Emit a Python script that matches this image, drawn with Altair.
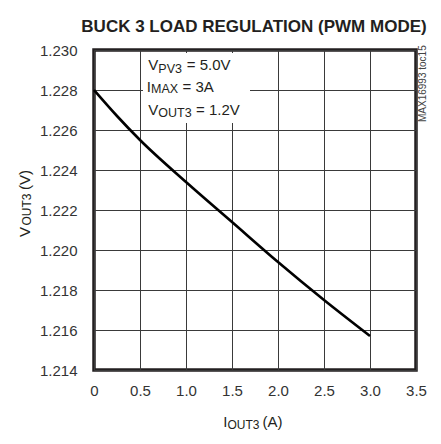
import altair as alt
import pandas as pd

# ---- data ----
current_a = [0.0, 0.25, 0.5, 1.0, 1.5, 2.0, 2.5, 3.0]
vout_v = [1.2280, 1.2267, 1.2255, 1.2234, 1.2214, 1.2194, 1.2175, 1.2157]
x_ticks = [0, 0.5, 1.0, 1.5, 2.0, 2.5, 3.0, 3.5]
y_ticks = [1.214, 1.216, 1.218, 1.220, 1.222, 1.224, 1.226, 1.228, 1.230]
title_text = "BUCK 3 LOAD REGULATION (PWM MODE)"
note_text = "MAX16993 toc15"

FONT = "'Liberation Sans', Arial, sans-serif"
INK = "#231f20"
W, H = 322, 320

df = pd.DataFrame({"i": current_a, "v": vout_v})

xs = alt.Scale(domain=[0, 3.5], nice=False, zero=False)
ys = alt.Scale(domain=[1.214, 1.230], nice=False, zero=False)

base = alt.Chart(df)

curve = base.mark_line(color="#000000", strokeWidth=2.6, interpolate="monotone").encode(
    x=alt.X("i:Q", scale=xs,
            axis=alt.Axis(values=x_ticks, title=None, grid=True, gridColor="#3a3a3a",
                          gridWidth=1, gridOpacity=1, ticks=False, domain=False,
                          labelExpr="datum.value == 0 ? '0' : format(datum.value, '.1f')",
                          labelFont=FONT, labelFontSize=15, labelColor="#333333",
                          labelPadding=13, labelFlush=False)),
    y=alt.Y("v:Q", scale=ys,
            axis=alt.Axis(values=y_ticks, title=None, grid=True, gridColor="#3a3a3a",
                          gridWidth=1, gridOpacity=1, ticks=False, domain=False,
                          format=".3f", labelFont=FONT, labelFontSize=15,
                          labelColor="#333333", labelPadding=17, labelFlush=False)),
)

one = pd.DataFrame({"k": [0]})


def txt(s, x, y, size, align="left", angle=0, weight="normal", color=INK, baseline="alphabetic"):
    return alt.Chart(one).mark_text(
        text=s, font=FONT, fontSize=size, align=align, angle=angle,
        fontWeight=weight, color=color, baseline=baseline,
    ).encode(x=alt.value(x), y=alt.value(y))


box = alt.Chart(one).mark_rect(color="white").encode(
    x=alt.value(49), x2=alt.value(156), y=alt.value(3), y2=alt.value(73)
)

layers = [
    box,
    curve,
    # annotation block
    txt("V", 64.3, 20, 15, align="right"),
    txt("PV3", 64.3, 22.5, 12.5),
    txt("= 5.0V", 92.7, 20, 15),
    txt("I", 57, 41.5, 15, align="right"),
    txt("MAX", 57, 43, 12.5),
    txt("= 3A", 88.5, 41.5, 15),
    txt("V", 64.3, 64.5, 15, align="right"),
    txt("OUT3", 64.3, 67, 12.5),
    txt("= 1.2V", 102, 64.5, 15),
    # chart title
    txt(title_text, W / 2 - 1, -18.5, 17, align="center", weight="bold"),
    # side note
    txt(note_text, 332, 72, 10, align="left", angle=270, color="#444444"),
    # x axis title
    txt("I", 133.5, 377, 15, align="right"),
    txt("OUT3", 133.5, 378.5, 12),
    txt("(A)", 168.5, 377, 15),
    # y axis title (rotated)
    txt("V", -64, 187, 15, angle=270),
    txt("OUT3", -63, 175.5, 12, angle=270),
    txt("(V)", -64, 140, 15, angle=270),
]

chart = alt.layer(*layers).properties(
    width=W, height=H,
    autosize=alt.AutoSizeParams(type="none"),
    padding={"left": 86, "top": 42, "right": 17, "bottom": 60},
).configure_view(stroke=INK, strokeWidth=3.5)

chart.save("out.html", embed_options={"renderer": "svg", "actions": False})
